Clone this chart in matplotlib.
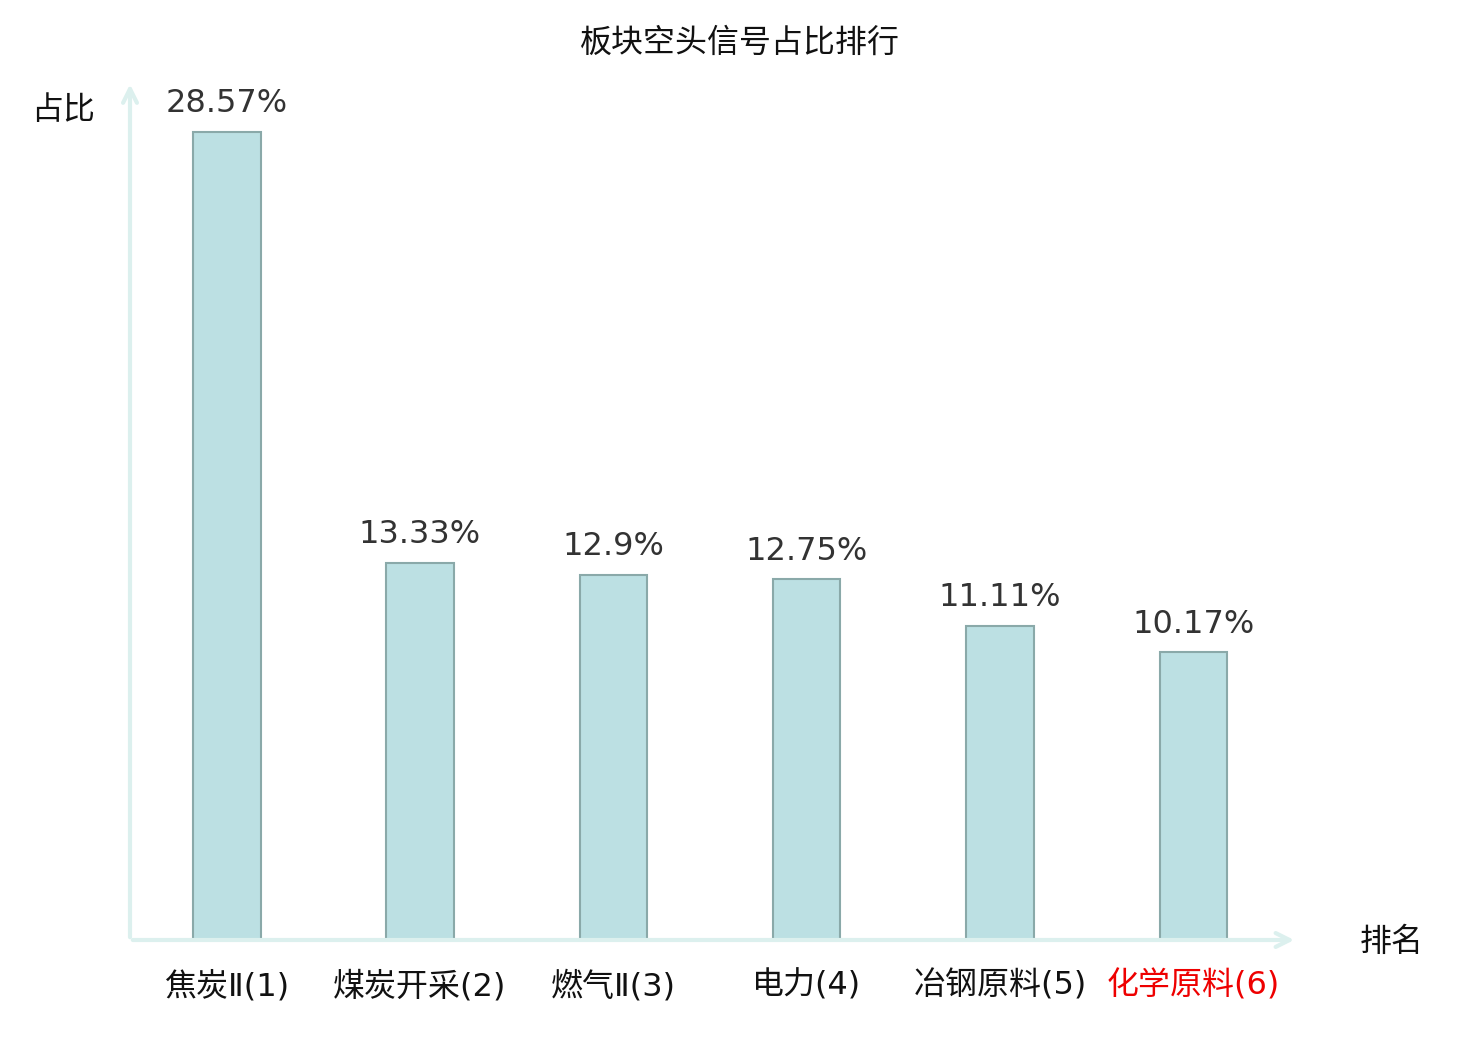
import matplotlib.pyplot as plt

plt.rcParams['font.family'] = ['Noto Sans CJK SC', 'DejaVu Sans']

sectors = ["焦炭Ⅱ(1)", "煤炭开采(2)", "燃气Ⅱ(3)", "电力(4)", "冶钢原料(5)", "化学原料(6)"]
ratios = [28.57, 13.33, 12.9, 12.75, 11.11, 10.17]
label_colors = ["#111111", "#111111", "#111111", "#111111", "#111111", "#ee0000"]

fig = plt.figure(figsize=(14.8, 10.4), dpi=100)
ax = fig.add_axes([130 / 1480, 100 / 1040, 1160 / 1480, 850 / 1040])

x = list(range(len(sectors)))
ax.bar(x, ratios, width=0.35, color="#bce0e3", edgecolor="#8aa9a9", linewidth=1.5)

for xi, v in zip(x, ratios):
    ax.text(xi, v + 0.45, f"{v}%", ha="center", va="bottom", fontsize=23,
            color="#333333", fontfamily=["DejaVu Sans"])

ax.set_xlim(-0.5, 5.5)
ax.set_ylim(0, 30.05)
for s in ax.spines.values():
    s.set_visible(False)
ax.set_yticks([])
ax.set_xticks(x)
ax.set_xticklabels(sectors, fontsize=23, fontfamily=["DejaVu Sans", "Noto Sans CJK SC"])
ax.tick_params(axis="x", length=0, pad=22)
for lbl, c in zip(ax.get_xticklabels(), label_colors):
    lbl.set_color(c)

# axis arrows
axis_col = "#dcf0ee"
ax.annotate("", xy=(1.006, 0), xytext=(0, 0), xycoords="axes fraction",
            arrowprops=dict(arrowstyle="->,head_length=1.0,head_width=0.5",
                            color=axis_col, lw=3), annotation_clip=False)
ax.annotate("", xy=(0, 1.01), xytext=(0, 0), xycoords="axes fraction",
            arrowprops=dict(arrowstyle="->,head_length=1.0,head_width=0.5",
                            color=axis_col, lw=3), annotation_clip=False)

fig.text(63 / 1480, 1 - 110 / 1040, "占比", ha="center", va="center", fontsize=23, color="#111111")
fig.text(1392 / 1480, 1 - 942 / 1040, "排名", ha="center", va="center", fontsize=23, color="#111111")
fig.text(740 / 1480, 1 - 43 / 1040, "板块空头信号占比排行", ha="center", va="center",
         fontsize=23, color="#111111")

plt.savefig("out.png")
